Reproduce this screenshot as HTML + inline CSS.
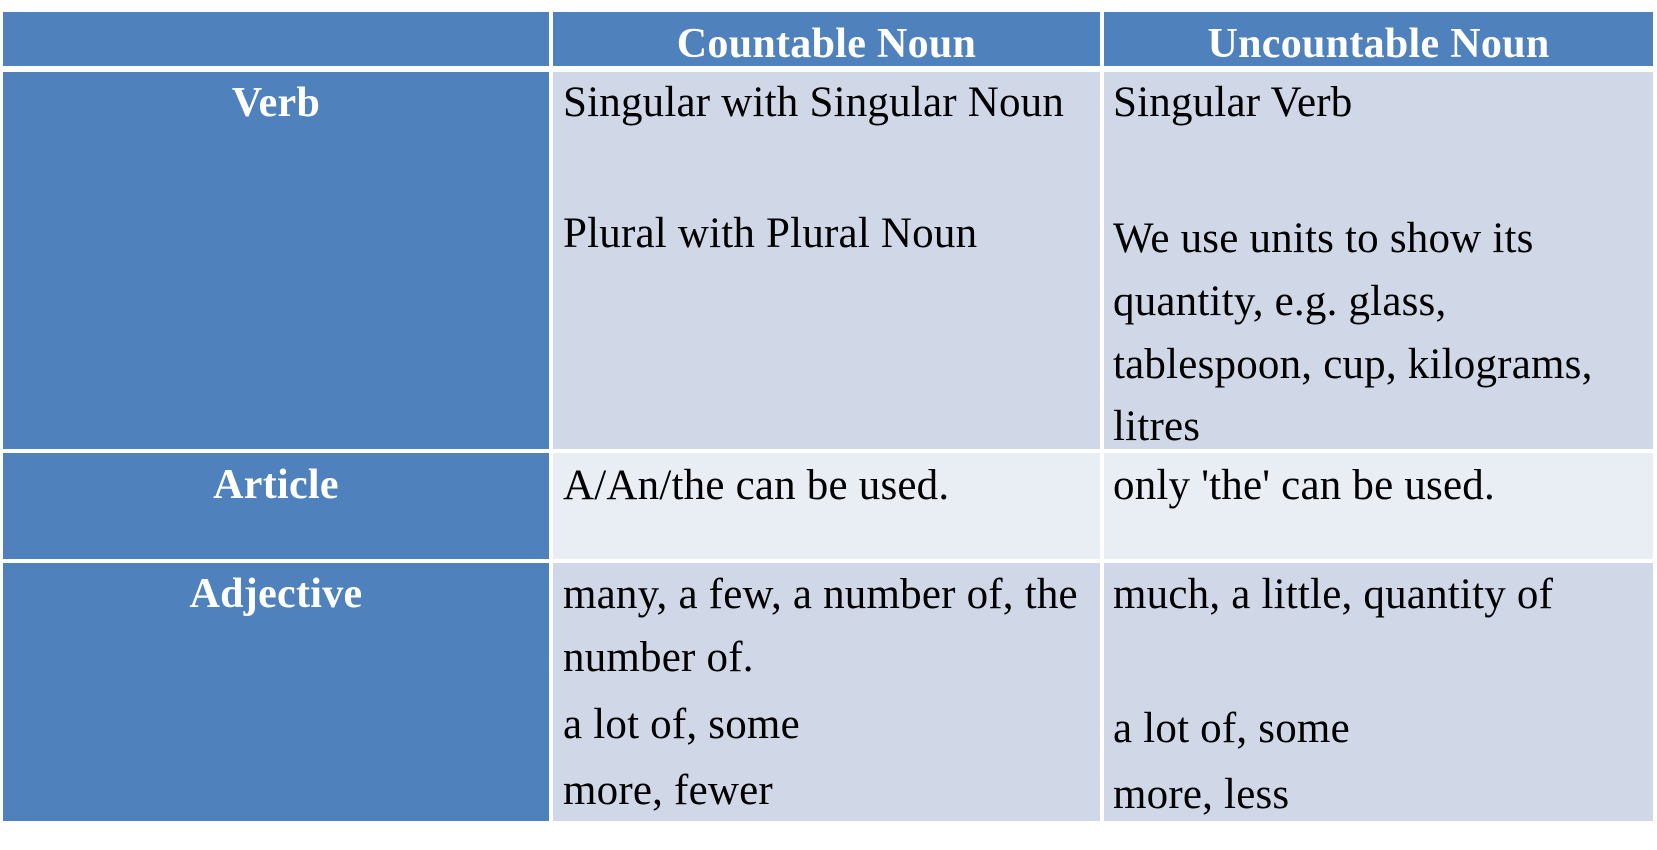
<!DOCTYPE html>
<html><head><meta charset="utf-8"><style>
body{margin:0;width:1657px;height:850px;background:#fff;position:relative;overflow:hidden;font-family:"Liberation Serif",serif;}
.c{position:absolute;}
.t{position:absolute;white-space:nowrap;font-size:43px;line-height:43px;color:#000;letter-spacing:0.2px;}
.h{position:absolute;white-space:nowrap;font-size:42px;line-height:42px;color:#fff;font-weight:bold;text-align:center;letter-spacing:0.3px;}
</style></head><body>
<div class="c" style="left:3px;top:12px;width:546px;height:54px;background:#4F81BD"></div>
<div class="c" style="left:553px;top:12px;width:547px;height:54px;background:#4F81BD"></div>
<div class="c" style="left:1104px;top:12px;width:549px;height:54px;background:#4F81BD"></div>

<div class="c" style="left:3px;top:72px;width:546px;height:377px;background:#4F81BD"></div>
<div class="c" style="left:553px;top:72px;width:547px;height:377px;background:#D0D8E8"></div>
<div class="c" style="left:1104px;top:72px;width:549px;height:377px;background:#D0D8E8"></div>

<div class="c" style="left:3px;top:453px;width:546px;height:106px;background:#4F81BD"></div>
<div class="c" style="left:553px;top:453px;width:547px;height:106px;background:#E9EDF4"></div>
<div class="c" style="left:1104px;top:453px;width:549px;height:106px;background:#E9EDF4"></div>

<div class="c" style="left:3px;top:563px;width:546px;height:258px;background:#4F81BD"></div>
<div class="c" style="left:553px;top:563px;width:547px;height:258px;background:#D0D8E8"></div>
<div class="c" style="left:1104px;top:563px;width:549px;height:258px;background:#D0D8E8"></div>

<div class="h" style="left:553px;width:547px;top:23px">Countable Noun</div>
<div class="h" style="left:1104px;width:549px;top:23px">Uncountable Noun</div>
<div class="h" style="left:3px;width:546px;top:82px">Verb</div>
<div class="h" style="left:3px;width:546px;top:464px">Article</div>
<div class="h" style="left:3px;width:546px;top:573px">Adjective</div>

<div class="t" style="left:563px;top:81px">Singular with Singular Noun</div>
<div class="t" style="left:563px;top:212px">Plural with Plural Noun</div>
<div class="t" style="left:1113px;top:81px">Singular Verb</div>
<div class="t" style="left:1113px;top:217px">We use units to show its</div>
<div class="t" style="left:1113px;top:280px">quantity, e.g. glass,</div>
<div class="t" style="left:1113px;top:343px">tablespoon, cup, kilograms,</div>
<div class="t" style="left:1113px;top:405px">litres</div>

<div class="t" style="left:563px;top:464px">A/An/the can be used.</div>
<div class="t" style="left:1113px;top:464px">only 'the' can be used.</div>

<div class="t" style="left:563px;top:573px">many, a few, a number of, the</div>
<div class="t" style="left:563px;top:636px">number of.</div>
<div class="t" style="left:563px;top:703px">a lot of, some</div>
<div class="t" style="left:563px;top:769px">more, fewer</div>
<div class="t" style="left:1113px;top:573px">much, a little, quantity of</div>
<div class="t" style="left:1113px;top:707px">a lot of, some</div>
<div class="t" style="left:1113px;top:773px">more, less</div>
</body></html>
